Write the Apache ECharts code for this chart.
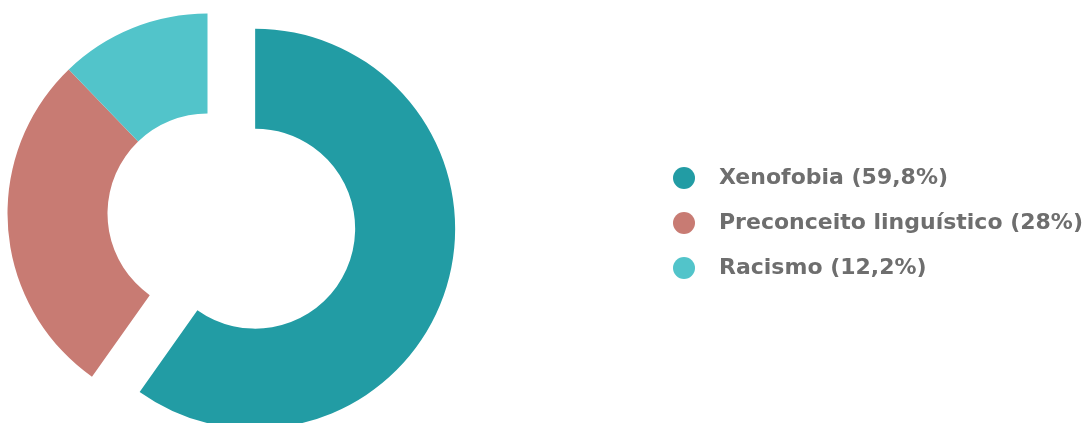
<!DOCTYPE html>
<html>
<head>
<meta charset="utf-8">
<script src="https://cdn.jsdelivr.net/npm/echarts@6/dist/echarts.min.js"></script>
<style>
    html, body { margin: 0; padding: 0; background: #fff; }
    #chart { width: 1090px; height: 423px; }
</style>
</head>
<body>
<div id="chart"></div>
<script>
// data
var categories = ['Xenofobia', 'Preconceito linguístico', 'Racismo'];
var shares = [59.8, 28, 12.2];
var labels = ['Xenofobia (59,8%)', 'Preconceito linguístico (28%)', 'Racismo (12,2%)'];
var colors = ['#229ca4', '#c87b73', '#52c4ca'];

var myChart = echarts.init(document.getElementById('chart'));

var pieData = categories.map(function (name, i) {
    return {
        name: name,
        value: shares[i],
        // the big slice is pulled out of the ring
        selected: i === 0,
        itemStyle: {color: colors[i]}
    };
});

var option = {
    animation: false,
    legend: {
        orient: 'vertical',
        left: 668,
        top: 162,
        icon: 'circle',
        itemWidth: 22,
        itemHeight: 22,
        itemGap: 23,
        selectedMode: false,
        formatter: function (name) {
            return labels[categories.indexOf(name)];
        },
        textStyle: {
            color: '#6e6e6e',
            fontFamily: 'DejaVu Sans',
            fontWeight: 'bold',
            fontSize: 22,
            lineHeight: 22,
            padding: [0, 0, 0, 19]
        },
        data: categories
    },
    series: [
        {
            type: 'pie',
            center: [207.5, 213.5],
            radius: [100, 200],
            startAngle: 90,
            selectedMode: 'single',
            selectedOffset: 50,
            label: {show: false},
            labelLine: {show: false},
            emphasis: {scale: false},
            data: pieData
        }
    ]
};

myChart.setOption(option);
</script>
</body>
</html>
